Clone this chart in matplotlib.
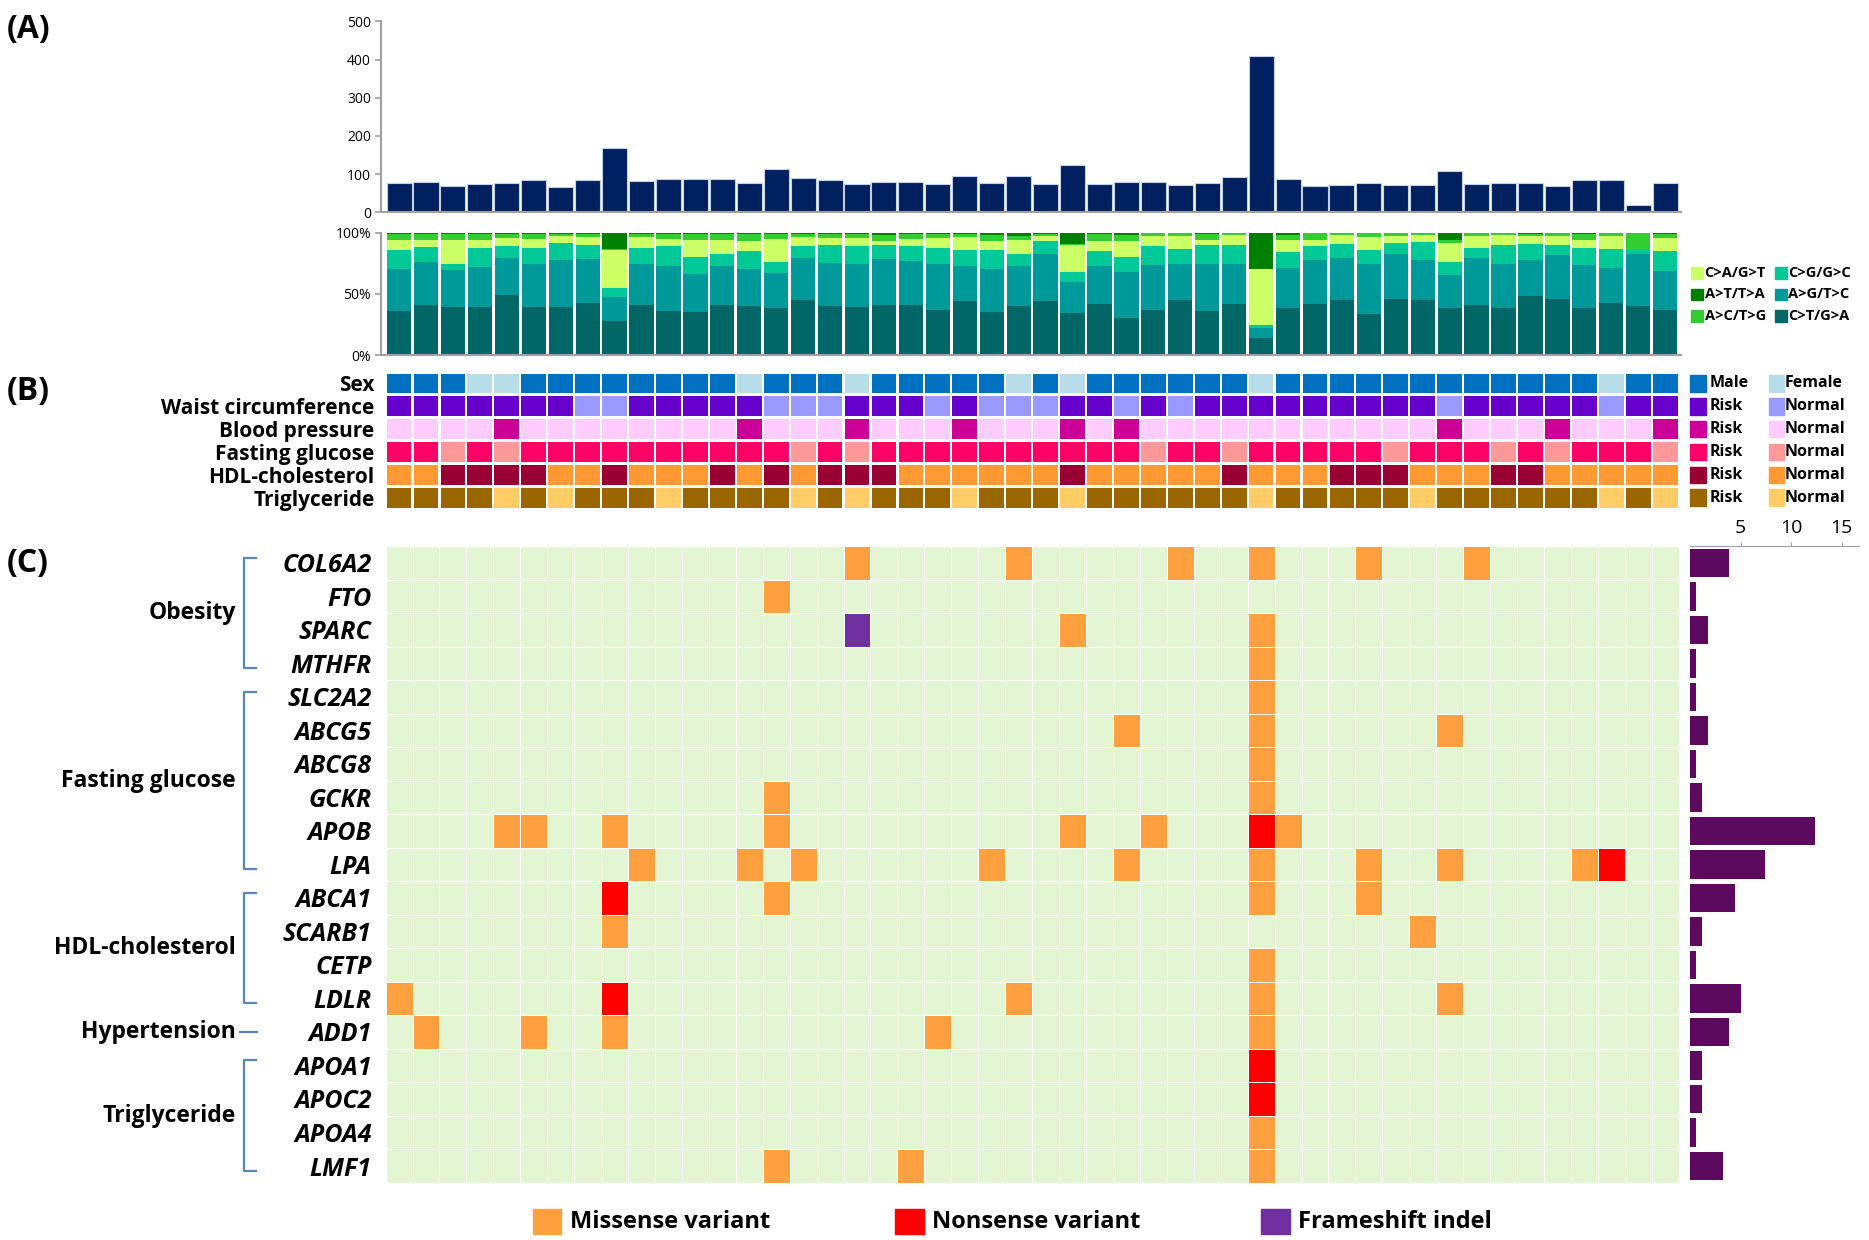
import matplotlib
matplotlib.use('Agg')
import matplotlib.pyplot as plt
import numpy as np
from matplotlib.patches import Rectangle
from matplotlib.transforms import blended_transform_factory
from matplotlib.colors import ListedColormap

plt.rcParams['font.family'] = ['Open Sans', 'DejaVu Sans']

# ---------------- data ----------------
n_samples = 48

total_variants = [77, 79, 69, 75, 77, 85, 67, 85, 169, 82, 88, 88, 88, 77, 113, 91,
                  85, 75, 80, 80, 75, 96, 77, 94, 75, 124, 75, 80, 80, 72, 77, 93,
                  410, 87, 68, 72, 77, 72, 72, 109, 75, 77, 77, 69, 85, 85, 19, 77]

# mutation spectrum (% of variants), stacked bottom -> top
ct_ga = [36.3, 41.1, 39.5, 39.5, 49.2, 39.0, 39.0, 42.2, 27.7, 41.1, 36.3, 35.5, 41.1, 40.3, 38.2, 45.2,
         40.3, 39.0, 41.1, 41.1, 37.1, 44.4, 35.5, 40.3, 44.3, 34.1, 42.1, 30.1, 36.8, 44.8, 36.3, 42.1,
         14.1, 38.9, 42.1, 44.8, 33.6, 46.1, 44.8, 38.9, 40.8, 38.9, 48.0, 45.6, 38.9, 42.7, 40.0, 36.8]
ag_tc = [34.1, 34.7, 29.9, 32.5, 30.1, 35.7, 39.0, 36.3, 20.1, 33.6, 36.8, 30.4, 31.5, 30.1, 28.5, 34.1,
         35.0, 35.7, 37.4, 35.5, 37.6, 28.7, 34.9, 32.3, 37.8, 25.4, 30.7, 37.4, 36.8, 29.9, 38.4, 32.6,
         8.0, 32.6, 35.2, 34.7, 41.1, 36.0, 32.5, 26.7, 38.1, 35.8, 29.3, 36.0, 34.7, 28.2, 42.1, 32.0]
cg_gc = [15.1, 12.4, 5.3, 15.1, 9.4, 12.4, 13.4, 11.6, 7.3, 12.4, 16.1, 13.9, 10.2, 14.8, 9.1, 9.4,
         14.8, 14.5, 11.6, 12.6, 12.4, 12.4, 15.1, 9.7, 10.7, 8.0, 12.0, 12.5, 15.2, 12.2, 15.4, 14.9,
         2.7, 12.8, 11.5, 11.2, 11.4, 9.4, 15.0, 10.7, 8.6, 14.9, 13.4, 8.0, 13.9, 16.0, 4.0, 16.0]
ca_gt = [8.6, 5.9, 18.8, 7.0, 6.7, 7.5, 5.4, 5.9, 30.4, 8.9, 5.4, 14.3, 10.7, 7.5, 18.8, 7.5,
         5.3, 6.2, 2.6, 5.4, 8.3, 10.5, 7.2, 11.8, 4.0, 22.1, 8.5, 13.3, 8.0, 9.9, 4.0, 8.5,
         45.3, 9.8, 5.3, 6.9, 9.9, 5.3, 5.8, 15.2, 9.3, 8.0, 6.1, 7.2, 6.6, 9.9, 0.0, 10.7]
ac_tg = [4.8, 4.8, 4.9, 4.8, 3.0, 4.3, 2.1, 2.9, 1.1, 2.9, 4.3, 4.8, 5.4, 6.2, 4.3, 2.7,
         3.5, 3.5, 5.4, 4.3, 3.5, 2.9, 5.4, 3.2, 1.9, 0.9, 5.4, 4.8, 2.4, 2.4, 4.6, 1.1,
         0.0, 4.0, 5.1, 1.6, 3.2, 2.4, 1.1, 2.6, 2.4, 1.6, 1.9, 2.4, 4.6, 2.4, 13.9, 3.2]
at_ta = [1.1, 1.1, 1.6, 1.1, 1.6, 1.1, 1.1, 1.1, 13.4, 1.1, 1.1, 1.1, 1.1, 1.1, 1.1, 1.1,
         1.1, 1.1, 1.9, 1.1, 1.1, 1.1, 1.9, 2.7, 1.3, 9.5, 1.3, 1.9, 0.8, 0.8, 1.3, 0.8,
         29.9, 1.9, 0.8, 0.8, 0.8, 0.8, 0.8, 5.9, 0.8, 0.8, 1.3, 0.8, 1.3, 0.8, 0.0, 1.3]

# clinical tracks (1 = Male / Risk, 0 = Female / Normal)
sex = [1, 1, 1, 0, 0, 1, 1, 1, 1, 1, 1, 1, 1, 0, 1, 1, 1, 0, 1, 1, 1, 1, 1, 0,
       1, 0, 1, 1, 1, 1, 1, 1, 0, 1, 1, 1, 1, 1, 1, 1, 1, 1, 1, 1, 1, 0, 1, 1]
waist = [1, 1, 1, 1, 1, 1, 1, 0, 0, 1, 1, 1, 1, 1, 0, 0, 0, 1, 1, 1, 0, 1, 0, 0,
         0, 1, 1, 0, 1, 0, 1, 1, 1, 1, 1, 1, 1, 1, 1, 0, 1, 1, 1, 1, 1, 0, 1, 1]
blood_pressure = [0, 0, 0, 0, 1, 0, 0, 0, 0, 0, 0, 0, 0, 1, 0, 0, 0, 1, 0, 0, 0, 1, 0, 0,
                  0, 1, 0, 1, 0, 0, 0, 0, 0, 0, 0, 0, 0, 0, 0, 1, 0, 0, 0, 1, 0, 0, 0, 1]
fasting_glucose = [1, 1, 0, 1, 0, 1, 1, 1, 1, 1, 1, 1, 1, 1, 1, 0, 1, 0, 1, 1, 1, 1, 1, 1,
                   1, 1, 1, 1, 0, 1, 1, 0, 1, 1, 1, 1, 1, 0, 1, 1, 1, 0, 1, 0, 1, 1, 1, 0]
hdl = [0, 0, 1, 1, 1, 1, 0, 0, 1, 0, 0, 0, 1, 0, 1, 0, 1, 1, 1, 0, 0, 0, 0, 0,
       0, 1, 0, 0, 0, 0, 0, 1, 0, 0, 0, 1, 1, 1, 0, 0, 0, 1, 1, 0, 0, 0, 0, 0]
triglyceride = [1, 1, 1, 1, 0, 1, 0, 1, 1, 1, 0, 1, 1, 1, 1, 0, 1, 0, 1, 1, 1, 0, 1, 1,
                1, 0, 1, 1, 1, 1, 1, 1, 0, 1, 1, 1, 1, 1, 0, 1, 1, 1, 1, 1, 1, 0, 1, 0]
track_names = ['Sex', 'Waist circumference', 'Blood pressure', 'Fasting glucose',
               'HDL-cholesterol', 'Triglyceride']

genes = ['COL6A2', 'FTO', 'SPARC', 'MTHFR', 'SLC2A2', 'ABCG5', 'ABCG8', 'GCKR', 'APOB', 'LPA',
         'ABCA1', 'SCARB1', 'CETP', 'LDLR', 'ADD1', 'APOA1', 'APOC2', 'APOA4', 'LMF1']
# sample numbers (1-based) carrying each variant type
missense = {'COL6A2': [18, 24, 30, 33, 37, 41], 'FTO': [15], 'SPARC': [26, 33], 'MTHFR': [33],
            'SLC2A2': [33], 'ABCG5': [28, 33, 40], 'ABCG8': [33], 'GCKR': [15, 33],
            'APOB': [5, 6, 9, 15, 26, 29, 34], 'LPA': [10, 14, 16, 23, 28, 33, 37, 40, 45],
            'ABCA1': [15, 33, 37], 'SCARB1': [9, 39], 'CETP': [33], 'LDLR': [1, 24, 33, 40],
            'ADD1': [2, 6, 9, 21, 33], 'APOA1': [], 'APOC2': [], 'APOA4': [33], 'LMF1': [15, 20, 33]}
nonsense = {'APOB': [33], 'LPA': [46], 'ABCA1': [9], 'LDLR': [9], 'APOA1': [33], 'APOC2': [33]}
frameshift = {'SPARC': [18]}
gene_counts = [3.8, 0.6, 1.8, 0.6, 0.6, 1.8, 0.6, 1.2, 12.4, 7.4, 4.4, 1.2, 0.6, 5.0, 3.8,
               1.2, 1.2, 0.6, 3.2]

groups = [('Obesity', 0, 3), ('Fasting glucose', 4, 9), ('HDL-cholesterol', 10, 13),
          ('Hypertension', 14, 14), ('Triglyceride', 15, 18)]

# ---------------- layout helpers ----------------
W, H = 1568.0, 1040.0
def box(x0, y0, x1, y1):
    return [x0 / W, 1 - y1 / H, (x1 - x0) / W, (y1 - y0) / H]
def fx(x):
    return x / W
def fy(y):
    return 1 - y / H

fig = plt.figure(figsize=(18.69, 12.40), dpi=100)
x = np.arange(n_samples)
unit = (1408.3 - 323.5) / 48
XL = (-0.5 - (323.5 - 320) / unit, 47.5 + (1410 - 1408.3) / unit)
grey = '#a0a0a0'

# ---------------- (A) total variants ----------------
ax1 = fig.add_axes(box(320, 18, 1410, 178))
ax1.bar(x, total_variants, width=0.93, color='#002060', edgecolor='#c5d0e4', linewidth=0.8)
ax1.set_xlim(*XL)
ax1.set_ylim(0, 500)
ax1.set_yticks(range(0, 501, 100))
ax1.set_xticks([])
ax1.tick_params(axis='y', labelsize=10, color=grey, length=4, width=1.2)
for s in ['top', 'right']:
    ax1.spines[s].set_visible(False)
for s in ['left', 'bottom']:
    ax1.spines[s].set_color(grey)
    ax1.spines[s].set_linewidth(1.5)

# ---------------- spectrum ----------------
ax2 = fig.add_axes(box(320, 195, 1410, 298))
spec = [ct_ga, ag_tc, cg_gc, ca_gt, ac_tg, at_ta]
spec_colors = ['#006666', '#009999', '#00c896', '#ccff66', '#33cc33', '#008000']
bottom = np.zeros(n_samples)
for vals, c in zip(spec, spec_colors):
    v = np.array(vals)
    ax2.bar(x, v, bottom=bottom, width=0.9, color=c, linewidth=0)
    bottom += v
ax2.set_xlim(*XL)
ax2.set_ylim(0, 100)
ax2.set_yticks([0, 50, 100])
ax2.set_yticklabels(['0%', '50%', '100%'])
ax2.set_xticks([])
ax2.tick_params(axis='y', labelsize=10, color=grey, length=4, width=1.2)
for s in ['top', 'right']:
    ax2.spines[s].set_visible(False)
for s in ['left', 'bottom']:
    ax2.spines[s].set_color(grey)
    ax2.spines[s].set_linewidth(1.5)

spec_legend = [('C>A/G>T', '#ccff66', 1419, 229), ('A>T/T>A', '#008000', 1419, 247),
               ('A>C/T>G', '#33cc33', 1419, 265), ('C>G/G>C', '#00c896', 1489, 229),
               ('A>G/T>C', '#009999', 1489, 247), ('C>T/G>A', '#006666', 1489, 265)]
for lab, c, lx, ly in spec_legend:
    fig.patches.append(Rectangle((fx(lx), fy(ly + 5)), 10 / W, 10 / H, color=c,
                                 transform=fig.transFigure))
    fig.text(fx(lx + 11), fy(ly), lab, fontsize=10.5, fontweight='bold', va='center', ha='left')

# ---------------- (B) clinical tracks ----------------
ax3 = fig.add_axes(box(320, 312, 1410, 427))
tracks = [sex, waist, blood_pressure, fasting_glucose, hdl, triglyceride]
track_colors = [('#0070c0', '#b7dde8'), ('#6600cc', '#9999ff'), ('#cc0099', '#ffccff'),
                ('#ff0066', '#ff9999'), ('#990033', '#ff9933'), ('#996600', '#ffcc66')]
for r, (vals, (c1, c0)) in enumerate(zip(tracks, track_colors)):
    cols = [c1 if v == 1 else c0 for v in vals]
    ax3.bar(x, 0.86, bottom=r - 0.43, width=0.92, color=cols, linewidth=0)
ax3.set_xlim(*XL)
ax3.set_ylim(5.5, -0.5)
ax3.set_xticks([])
ax3.set_yticks(range(6))
ax3.set_yticklabels(track_names, fontsize=15, fontweight='bold')
ax3.tick_params(axis='y', length=0, pad=5)
for s in ax3.spines.values():
    s.set_visible(False)

tr3 = blended_transform_factory(fig.transFigure, ax3.transData)
track_leg = [('Male', 'Female')] + [('Risk', 'Normal')] * 5
for r, ((l1, l0), (c1, c0)) in enumerate(zip(track_leg, track_colors)):
    fig.patches.append(Rectangle((fx(1418), r - 0.36), 13 / W, 0.72, color=c1, transform=tr3))
    fig.patches.append(Rectangle((fx(1484), r - 0.36), 13 / W, 0.72, color=c0, transform=tr3))
    fig.text(fx(1434), r, l1, transform=tr3, fontsize=11.5, fontweight='bold', va='center')
    fig.text(fx(1497), r, l0, transform=tr3, fontsize=11.5, fontweight='bold', va='center')

# ---------------- (C) gene heatmap ----------------
ax4 = fig.add_axes(box(320, 458, 1410, 992))
M = np.zeros((len(genes), n_samples))
for i, g in enumerate(genes):
    for s in missense.get(g, []):
        M[i, s - 1] = 1
    for s in nonsense.get(g, []):
        M[i, s - 1] = 2
    for s in frameshift.get(g, []):
        M[i, s - 1] = 3
mut_colors = ['#e3f5d3', '#ffa040', '#ff0000', '#7030a0']
ax4.pcolormesh(np.arange(n_samples + 1) - 0.5, np.arange(len(genes) + 1) - 0.5, M,
               cmap=ListedColormap(mut_colors), vmin=-0.5, vmax=3.5,
               edgecolors='white', linewidth=0.7)
ax4.set_xlim(*XL)
ax4.set_ylim(len(genes) - 0.5, -0.5)
ax4.set_xticks([])
ax4.set_yticks(range(len(genes)))
ax4.set_yticklabels(genes, fontsize=18, fontweight='bold', fontstyle='italic')
ax4.tick_params(axis='y', length=0, pad=7)
for s in ax4.spines.values():
    s.set_visible(False)

tr4 = blended_transform_factory(fig.transFigure, ax4.transData)
bc = '#5b85b5'
for name, r0, r1 in groups:
    if r0 == r1:
        ax4.plot([fx(201), fx(216)], [r0, r0], color=bc, lw=1.6, transform=tr4, clip_on=False)
    else:
        ax4.plot([fx(215), fx(205), fx(205), fx(215)], [r0 - 0.15, r0 - 0.15, r1 + 0.15, r1 + 0.15],
                 color=bc, lw=1.6, transform=tr4, clip_on=False)
    fig.text(fx(198), (r0 + r1) / 2, name, transform=tr4, fontsize=16.5, fontweight='bold',
             ha='right', va='center')

# side bar
ax5 = fig.add_axes(box(1418, 458, 1560, 992))
ax5.barh(np.arange(len(genes)), gene_counts, height=0.85, color='#5b0a5e')
ax5.set_ylim(len(genes) - 0.5, -0.5)
ax5.set_xlim(0, 142 / 8.47)
ax5.xaxis.tick_top()
ax5.set_xticks([5, 10, 15])
ax5.set_yticks([])
ax5.tick_params(axis='x', labelsize=14, color=grey, length=3)
for s in ['bottom', 'right', 'left']:
    ax5.spines[s].set_visible(False)
ax5.spines['top'].set_color(grey)

# bottom legend
for lab, c, lx in [('Missense variant', '#ffa040', 447), ('Nonsense variant', '#ff0000', 751),
                   ('Frameshift indel', '#7030a0', 1058)]:
    fig.patches.append(Rectangle((fx(lx), fy(1035)), 24 / W, 21 / H, color=c,
                                 transform=fig.transFigure))
    fig.text(fx(lx + 31), fy(1025), lab, fontsize=17, fontweight='bold', va='center', ha='left')

# panel labels
for lab, py in [('(A)', 25), ('(B)', 328), ('(C)', 473)]:
    fig.text(fx(6), fy(py), lab, fontsize=23, fontweight='bold', va='center', ha='left')

fig.savefig('out.png', dpi=100)
